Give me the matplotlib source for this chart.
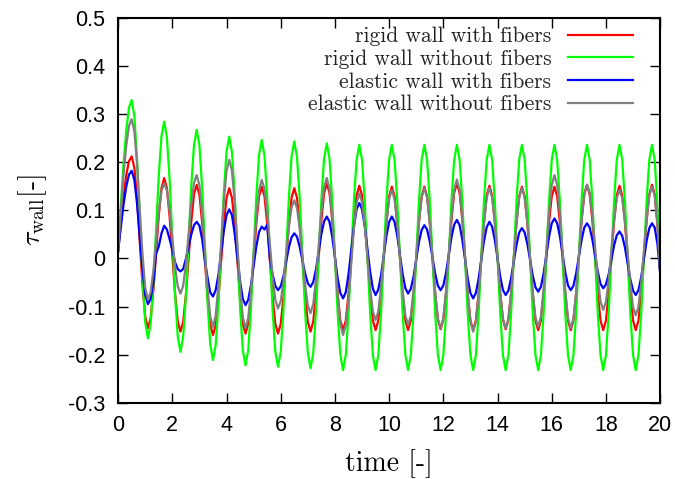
import numpy as np
import matplotlib
matplotlib.use("Agg")
import matplotlib.pyplot as plt
from matplotlib.ticker import FuncFormatter

plt.rcParams['mathtext.fontset'] = 'cm'
plt.rcParams['font.family'] = ['Liberation Sans', 'DejaVu Sans']

# sample times (every 0.1 time units, 0 .. 20)
time = np.linspace(0, 20, 201)

# values, one row per oscillation period (peak -> trough -> rise)
rigid_fibers = [
    0.015, 0.074, 0.129, 0.173, 0.202,
    0.212, 0.188, 0.123, 0.034, -0.056, -0.121, -0.145, -0.124, -0.067, 0.011, 0.089, 0.146,
    0.167, 0.146, 0.087, 0.007, -0.072, -0.131, -0.152, -0.132, -0.076, 0.001, 0.077, 0.133,
    0.153, 0.132, 0.075, -0.003, -0.081, -0.138, -0.159, -0.139, -0.083, -0.007, 0.070, 0.126,
    0.146, 0.126, 0.071, -0.005, -0.081, -0.136, -0.156, -0.136, -0.080, -0.004, 0.073, 0.129,
    0.149, 0.129, 0.073, -0.004, -0.080, -0.136, -0.156, -0.136, -0.080, -0.005, 0.071, 0.126,
    0.146, 0.126, 0.072, -0.003, -0.078, -0.132, -0.152, -0.131, -0.075, 0.002, 0.079, 0.135,
    0.156, 0.136, 0.080, 0.004, -0.073, -0.129, -0.149, -0.129, -0.074, 0.001, 0.076, 0.131,
    0.151, 0.131, 0.076, 0.001, -0.074, -0.129, -0.149, -0.129, -0.075, 0.000, 0.075, 0.129,
    0.149, 0.129, 0.075, 0.000, -0.075, -0.129, -0.149, -0.129, -0.075, 0.000, 0.075, 0.129,
    0.149, 0.129, 0.075, 0.001, -0.073, -0.127, -0.147, -0.127, -0.071, 0.005, 0.080, 0.136,
    0.156, 0.136, 0.080, 0.004, -0.073, -0.129, -0.149, -0.129, -0.074, 0.001, 0.076, 0.131,
    0.151, 0.131, 0.077, 0.002, -0.073, -0.127, -0.147, -0.127, -0.073, 0.001, 0.075, 0.129,
    0.149, 0.129, 0.075, 0.000, -0.075, -0.129, -0.149, -0.129, -0.075, 0.000, 0.075, 0.129,
    0.149, 0.129, 0.075, 0.000, -0.075, -0.129, -0.149, -0.129, -0.073, 0.002, 0.078, 0.133,
    0.153, 0.133, 0.078, 0.002, -0.073, -0.129, -0.149, -0.129, -0.074, 0.001, 0.076, 0.131,
    0.151, 0.131, 0.076, 0.001, -0.074, -0.129, -0.149, -0.129, -0.073, 0.002, 0.078, 0.133,
    0.153, 0.133, 0.070, -0.030,
]

rigid_nofibers = [
    0.015, 0.109, 0.197, 0.266, 0.313,
    0.329, 0.296, 0.205, 0.082, -0.042, -0.133, -0.166, -0.136, -0.054, 0.059, 0.172, 0.254,
    0.284, 0.252, 0.164, 0.045, -0.075, -0.162, -0.194, -0.163, -0.079, 0.037, 0.152, 0.236,
    0.267, 0.235, 0.147, 0.028, -0.092, -0.179, -0.211, -0.180, -0.095, 0.021, 0.137, 0.222,
    0.253, 0.221, 0.134, 0.016, -0.103, -0.190, -0.222, -0.191, -0.105, 0.012, 0.129, 0.215,
    0.246, 0.214, 0.128, 0.011, -0.107, -0.193, -0.225, -0.194, -0.108, 0.009, 0.126, 0.212,
    0.243, 0.211, 0.125, 0.007, -0.110, -0.196, -0.228, -0.197, -0.111, 0.006, 0.122, 0.208,
    0.239, 0.207, 0.121, 0.003, -0.114, -0.200, -0.232, -0.201, -0.115, 0.002, 0.119, 0.205,
    0.236, 0.205, 0.119, 0.002, -0.115, -0.201, -0.232, -0.201, -0.115, 0.002, 0.119, 0.205,
    0.236, 0.205, 0.119, 0.002, -0.115, -0.201, -0.232, -0.201, -0.115, 0.002, 0.119, 0.205,
    0.236, 0.205, 0.119, 0.002, -0.115, -0.201, -0.232, -0.201, -0.115, 0.002, 0.119, 0.205,
    0.236, 0.205, 0.119, 0.002, -0.115, -0.201, -0.232, -0.201, -0.115, 0.002, 0.119, 0.205,
    0.236, 0.205, 0.119, 0.002, -0.115, -0.201, -0.232, -0.201, -0.115, 0.002, 0.119, 0.205,
    0.236, 0.205, 0.119, 0.002, -0.115, -0.201, -0.232, -0.201, -0.115, 0.002, 0.119, 0.205,
    0.236, 0.205, 0.119, 0.002, -0.115, -0.201, -0.232, -0.201, -0.115, 0.002, 0.119, 0.205,
    0.236, 0.205, 0.119, 0.002, -0.115, -0.201, -0.232, -0.201, -0.115, 0.002, 0.119, 0.205,
    0.236, 0.205, 0.119, 0.002, -0.115, -0.201, -0.232, -0.201, -0.115, 0.002, 0.119, 0.205,
    0.236, 0.205, 0.110, -0.030,
]

elastic_fibers = [
    0.015, 0.065, 0.112, 0.149, 0.174,
    0.182, 0.163, 0.113, 0.044, -0.026, -0.076, -0.095, -0.084, -0.050, 0.010, 0.025, 0.052,
    0.068, 0.060, 0.040, 0.018, -0.008, -0.022, -0.027, -0.022, -0.001, 0.025, 0.050, 0.069,
    0.076, 0.068, 0.040, -0.004, -0.040, -0.071, -0.079, -0.066, -0.034, 0.012, 0.057, 0.090,
    0.102, 0.090, 0.052, 0.003, -0.047, -0.084, -0.097, -0.086, -0.056, -0.016, 0.025, 0.055,
    0.066, 0.060, 0.070, 0.000, -0.033, -0.057, -0.066, -0.058, -0.037, -0.007, 0.023, 0.044,
    0.052, 0.045, 0.024, -0.004, -0.031, -0.052, -0.059, -0.049, -0.023, 0.014, 0.051, 0.077,
    0.087, 0.076, 0.045, 0.002, -0.041, -0.072, -0.083, -0.070, -0.034, 0.016, 0.066, 0.102,
    0.115, 0.102, 0.067, 0.020, -0.028, -0.063, -0.076, -0.065, -0.035, 0.006, 0.046, 0.076,
    0.087, 0.076, 0.047, 0.007, -0.033, -0.062, -0.073, -0.063, -0.038, -0.002, 0.034, 0.059,
    0.069, 0.060, 0.035, 0.002, -0.032, -0.057, -0.066, -0.056, -0.030, 0.007, 0.044, 0.070,
    0.080, 0.069, 0.039, -0.002, -0.042, -0.072, -0.083, -0.072, -0.043, -0.004, 0.036, 0.065,
    0.076, 0.066, 0.038, 0.000, -0.038, -0.066, -0.076, -0.067, -0.041, -0.007, 0.028, 0.054,
    0.063, 0.054, 0.030, -0.003, -0.036, -0.060, -0.069, -0.059, -0.031, 0.007, 0.045, 0.073,
    0.083, 0.073, 0.046, 0.009, -0.029, -0.056, -0.066, -0.057, -0.031, 0.004, 0.038, 0.064,
    0.073, 0.064, 0.039, 0.006, -0.028, -0.053, -0.062, -0.054, -0.033, -0.003, 0.027, 0.048,
    0.056, 0.047, 0.023, -0.010, -0.043, -0.067, -0.076, -0.066, -0.039, -0.001, 0.036, 0.063,
    0.073, 0.064, 0.030, -0.030,
]

elastic_nofibers = [
    0.015, 0.097, 0.174, 0.234, 0.275,
    0.289, 0.264, 0.195, 0.102, 0.008, -0.061, -0.086, -0.070, -0.026, 0.035, 0.096, 0.140,
    0.156, 0.141, 0.099, 0.042, -0.016, -0.058, -0.073, -0.057, -0.012, 0.050, 0.112, 0.157,
    0.173, 0.152, 0.094, 0.016, -0.063, -0.121, -0.142, -0.119, -0.055, 0.032, 0.118, 0.182,
    0.205, 0.182, 0.118, 0.030, -0.058, -0.122, -0.145, -0.124, -0.068, 0.009, 0.086, 0.142,
    0.163, 0.145, 0.096, 0.030, -0.037, -0.086, -0.104, -0.089, -0.048, 0.009, 0.065, 0.106,
    0.121, 0.105, 0.062, 0.004, -0.055, -0.098, -0.114, -0.095, -0.044, 0.027, 0.097, 0.148,
    0.167, 0.145, 0.086, 0.004, -0.078, -0.137, -0.159, -0.139, -0.086, -0.012, 0.062, 0.115,
    0.135, 0.117, 0.069, 0.004, -0.062, -0.110, -0.128, -0.110, -0.061, 0.007, 0.075, 0.124,
    0.142, 0.123, 0.072, 0.002, -0.068, -0.119, -0.138, -0.119, -0.067, 0.004, 0.075, 0.127,
    0.146, 0.127, 0.073, 0.000, -0.072, -0.126, -0.145, -0.124, -0.068, 0.010, 0.087, 0.143,
    0.164, 0.143, 0.085, 0.006, -0.073, -0.131, -0.152, -0.132, -0.078, -0.003, 0.072, 0.126,
    0.146, 0.127, 0.073, 0.000, -0.072, -0.126, -0.145, -0.126, -0.072, 0.000, 0.073, 0.127,
    0.146, 0.127, 0.074, 0.002, -0.070, -0.123, -0.142, -0.121, -0.063, 0.016, 0.094, 0.152,
    0.173, 0.152, 0.094, 0.014, -0.066, -0.124, -0.145, -0.125, -0.071, 0.004, 0.079, 0.133,
    0.153, 0.136, 0.088, 0.023, -0.042, -0.090, -0.107, -0.090, -0.045, 0.018, 0.080, 0.125,
    0.142, 0.125, 0.077, 0.012, -0.053, -0.101, -0.118, -0.100, -0.051, 0.016, 0.082, 0.131,
    0.149, 0.130, 0.070, -0.030,
]

labels = ["rigid wall with fibers", "rigid wall without fibers",
          "elastic wall with fibers", "elastic wall without fibers"]
series = [rigid_fibers, rigid_nofibers, elastic_fibers, elastic_nofibers]
colors = ["#ff0000", "#00ff00", "#0000ff", "#808080"]


def main():
    fig = plt.figure(figsize=(6.75, 4.79), dpi=100)
    ax = fig.add_axes([0.175, 0.159, 0.803, 0.804])

    for y, lab, c in zip(series, labels, colors):
        ax.plot(time, y, color=c, lw=1.6, label=lab)

    ax.set_xlim(0, 20)
    ax.set_ylim(-0.3, 0.5)
    ax.set_xticks(np.arange(0, 21, 2))
    ax.set_yticks(np.arange(-0.3, 0.51, 0.1))
    ax.yaxis.set_major_formatter(FuncFormatter(lambda v, p: "%g" % round(v, 1)))
    ax.tick_params(direction="in", length=7, width=1, labelsize=15.5,
                   top=True, right=True, pad=9)
    for s in ax.spines.values():
        s.set_linewidth(1.5)

    ax.set_xlabel("time [-]", fontfamily="cmr10", fontsize=20, labelpad=9)
    ax.set_ylabel(r"$\tau_{\mathrm{wall}}$[-]", fontfamily="cmr10",
                  fontsize=20, labelpad=14)

    leg = ax.legend(loc="upper right", bbox_to_anchor=(0.950, 0.976),
                    frameon=False, markerfirst=False,
                    prop={"family": "cmr10", "size": 15.5},
                    handlelength=3.0, handletextpad=0.8,
                    labelspacing=0.14, borderaxespad=0, borderpad=0)
    for t in leg.get_texts():
        t.set_color("#222222")

    fig.savefig("out.png", dpi=100)
    plt.close()


if __name__ == '__main__':
    main()
